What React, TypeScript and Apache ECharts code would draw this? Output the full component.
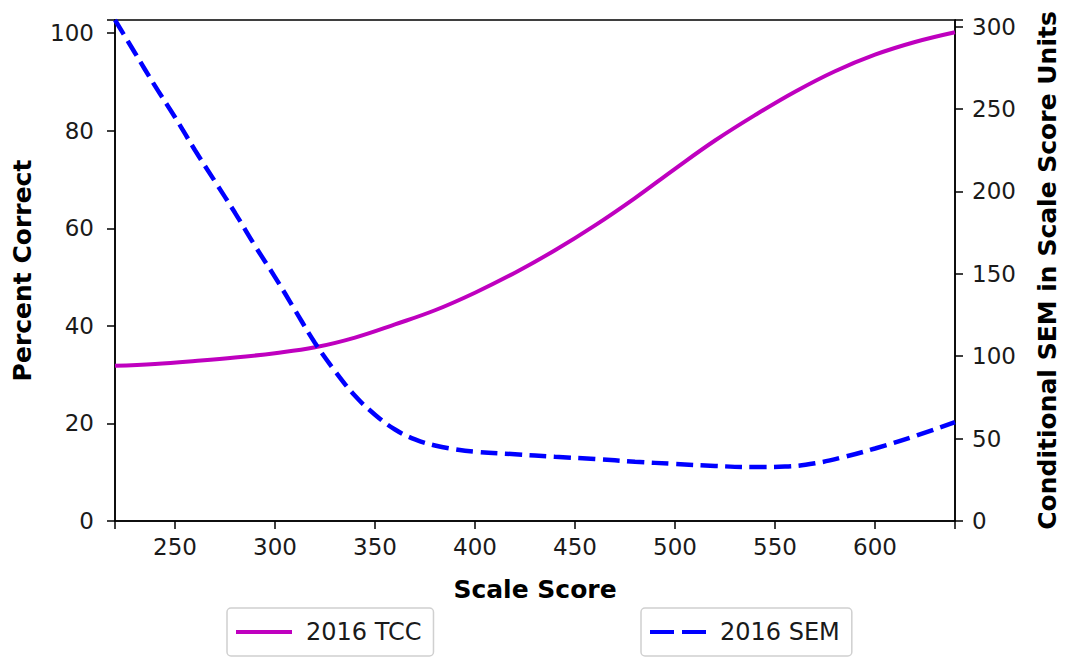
import React, { useEffect, useRef } from "react";
import * as echarts from "echarts";

const scaleScores = [220, 240, 260, 280, 300, 320, 340, 360, 380, 400, 420, 440, 460, 480, 500, 520, 540, 560, 580, 600, 620, 640];
const tccValues = [31.8, 32.2, 32.8, 33.5, 34.4, 35.6, 37.6, 40.3, 43.2, 46.8, 50.9, 55.5, 60.6, 66.2, 72.2, 78.0, 83.2, 88.0, 92.2, 95.6, 98.2, 100.2];

const semScores = [220, 230, 240, 250, 260, 270, 280, 290, 300, 310, 320, 330, 340, 350, 360, 370, 380, 390, 400, 420, 440, 460, 480, 500, 520, 540, 555, 570, 585, 600, 620, 640];
const semValues = [304, 284, 264, 245, 225, 206, 187, 167, 148, 128, 108, 91, 76, 64.5, 55.5, 49.5, 45.8, 43.5, 42, 40.5, 39, 37.6, 36, 34.6, 33.4, 32.7, 33, 35, 39, 44, 51.5, 60];

const xTicks = [250, 300, 350, 400, 450, 500, 550, 600];
const leftTicks = [0, 20, 40, 60, 80, 100];
const rightTicks = [0, 50, 100, 150, 200, 250, 300];

const seriesNames = ["2016 TCC", "2016 SEM"];

export default function App() {
  const ref = useRef<HTMLDivElement>(null);
  useEffect(() => {
    if (!ref.current) return;
    const chart = echarts.init(ref.current, null, { renderer: "svg" });
    const font = "DejaVu Sans";
    const tickText = { fontFamily: font, fontSize: 23, color: "#1a1a1a" };
    const nameText = { fontFamily: font, fontSize: 25, fontWeight: "bold" as const, color: "#000" };
    const legendBase = {
      orient: "horizontal" as const,
      top: 608,
      padding: [12, 12, 12, 9],
      borderColor: "#d0d0d0",
      borderWidth: 1.5,
      borderRadius: 4,
      itemWidth: 56,
      itemHeight: 4,
      textStyle: { fontFamily: font, fontSize: 24, color: "#1a1a1a", padding: [0, 0, 0, 9] },
    };
    chart.setOption({
      animation: false,
      backgroundColor: "#fff",
      grid: {
        left: 115,
        right: 104,
        top: 20,
        bottom: 137,
        show: true,
        borderColor: "#000",
        borderWidth: 1.5,
        backgroundColor: "transparent",
      },
      legend: [
        {
          ...legendBase,
          left: 227,
          data: [{ name: seriesNames[0], icon: "path://M0 0H56V4H0Z" }],
        },
        {
          ...legendBase,
          left: 641,
          data: [{ name: seriesNames[1], icon: "path://M0 0H24V4H0Z M32 0H56V4H32Z" }],
        },
      ],
      xAxis: {
        type: "value",
        min: 220,
        max: 640,
        splitNumber: 8,
        name: "Scale Score",
        nameLocation: "middle",
        nameGap: 56,
        nameTextStyle: nameText,
        axisLine: { show: true, lineStyle: { color: "#000", width: 1.5 } },
        axisTick: { show: true, inside: false, length: 8, lineStyle: { color: "#000", width: 1.5 } },
        axisLabel: {
          ...tickText,
          margin: 14,
          formatter: (v: number) => (xTicks.includes(v) ? String(v) : ""),
        },
        splitLine: { show: false },
      },
      yAxis: [
        {
          type: "value",
          min: 0,
          max: 102.7,
          interval: 20,
          position: "left",
          name: "Percent Correct",
          nameLocation: "middle",
          nameGap: 80,
          nameTextStyle: nameText,
          axisLine: { show: true, lineStyle: { color: "#000", width: 1.5 } },
          axisTick: { show: true, inside: false, length: 8, lineStyle: { color: "#000", width: 1.5 } },
          axisLabel: {
            ...tickText,
            margin: 21,
            formatter: (v: number) => (leftTicks.includes(v) ? String(v) : ""),
          },
          splitLine: { show: false },
        },
        {
          type: "value",
          min: 0,
          max: 304,
          interval: 50,
          position: "right",
          name: "Conditional SEM in Scale Score Units",
          nameLocation: "middle",
          nameGap: 80,
          nameRotate: 90,
          nameTextStyle: nameText,
          axisLine: { show: true, lineStyle: { color: "#000", width: 1.5 } },
          axisTick: { show: true, inside: false, length: 8, lineStyle: { color: "#000", width: 1.5 } },
          axisLabel: {
            ...tickText,
            margin: 17,
            formatter: (v: number) => (rightTicks.includes(v) ? String(v) : ""),
          },
          splitLine: { show: false },
        },
      ],
      series: [
        {
          name: seriesNames[0],
          type: "line",
          yAxisIndex: 0,
          symbol: "none",
          smooth: 0.4,
          data: scaleScores.map((x, i) => [x, tccValues[i]]),
          lineStyle: { color: "#bf00bf", width: 4 },
          itemStyle: { color: "#bf00bf" },
        },
        {
          name: seriesNames[1],
          type: "line",
          yAxisIndex: 1,
          symbol: "none",
          smooth: 0.4,
          data: semScores.map((x, i) => [x, semValues[i]]),
          lineStyle: { color: "#0000ff", width: 4.5, type: [17, 7.5] },
          itemStyle: { color: "#0000ff" },
        },
      ],
    });
    return () => chart.dispose();
  }, []);
  return (
    <div
      ref={ref}
      style={{ position: "fixed", left: 0, top: 0, width: 1068, height: 658, background: "#fff" }}
    />
  );
}
